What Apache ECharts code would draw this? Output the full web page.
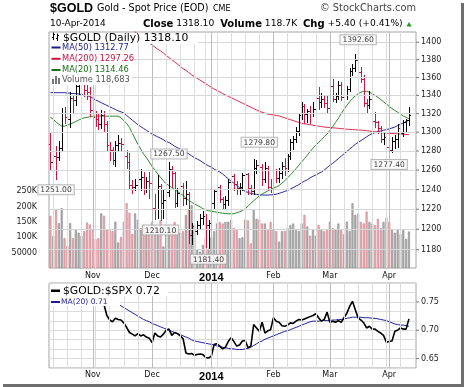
<!DOCTYPE html>
<html><head><meta charset="utf-8">
<script src="https://cdn.jsdelivr.net/npm/echarts@6/dist/echarts.min.js"></script>
<style>html,body{margin:0;padding:0;background:#fff}#c{width:464px;height:387px}</style>
</head><body><div id="c"></div>
<script>
// ---------------- DATA ----------------
const dates = [
'2013-10-11','2013-10-14','2013-10-15','2013-10-16','2013-10-17','2013-10-18','2013-10-21','2013-10-22','2013-10-23','2013-10-24','2013-10-25','2013-10-28','2013-10-29','2013-10-30','2013-10-31',
'2013-11-01','2013-11-04','2013-11-05','2013-11-06','2013-11-07','2013-11-08','2013-11-11','2013-11-12','2013-11-13','2013-11-14','2013-11-15','2013-11-18','2013-11-19','2013-11-20','2013-11-21','2013-11-22','2013-11-25','2013-11-26','2013-11-27','2013-11-28','2013-11-29',
'2013-12-02','2013-12-03','2013-12-04','2013-12-05','2013-12-06','2013-12-09','2013-12-10','2013-12-11','2013-12-12','2013-12-13','2013-12-16','2013-12-17','2013-12-18','2013-12-19','2013-12-20','2013-12-23','2013-12-24','2013-12-26','2013-12-27','2013-12-30','2013-12-31',
'2014-01-02','2014-01-03','2014-01-06','2014-01-07','2014-01-08','2014-01-09','2014-01-10','2014-01-13','2014-01-14','2014-01-15','2014-01-16','2014-01-17','2014-01-20','2014-01-21','2014-01-22','2014-01-23','2014-01-24','2014-01-27','2014-01-28','2014-01-29','2014-01-30','2014-01-31',
'2014-02-03','2014-02-04','2014-02-05','2014-02-06','2014-02-07','2014-02-10','2014-02-11','2014-02-12','2014-02-13','2014-02-14','2014-02-17','2014-02-18','2014-02-19','2014-02-20','2014-02-21','2014-02-24','2014-02-25','2014-02-26','2014-02-27','2014-02-28',
'2014-03-03','2014-03-04','2014-03-05','2014-03-06','2014-03-07','2014-03-10','2014-03-11','2014-03-12','2014-03-13','2014-03-14','2014-03-17','2014-03-18','2014-03-19','2014-03-20','2014-03-21','2014-03-24','2014-03-25','2014-03-26','2014-03-27','2014-03-28','2014-03-31',
'2014-04-01','2014-04-02','2014-04-03','2014-04-04','2014-04-07','2014-04-08','2014-04-09','2014-04-10'];
const padDates = ['2014-04-11','2014-04-14'];

const open = [1287,1268,1274,1273,1283,1320,1316,1314,1337,1334,1350,1352,1354,1345,1343,
1323,1316,1314,1308,1318,1308,1286,1281,1270,1286,1288,1287,1274,1268,1244,1242,1244,1250,1252,1240,1248,
1246,1221,1220,1243,1226,1229,1237,1261,1256,1226,1236,1243,1231,1235,1194,1203,1198,1204,1211,1213,1204,
1206,1226,1238,1242,1230,1225,1229,1247,1253,1245,1241,1242,1254,1255,1241,1238,1262,1265,1263,1250,1262,1242,
1240,1260,1251,1256,1264,1262,1274,1289,1292,1301,1318,1328,1319,1322,1320,1324,1337,1332,1336,1331,
1326,1350,1336,1339,1351,1338,1340,1347,1367,1370,1379,1366,1358,1331,1329,1336,1311,1310,1304,1292,1294,
1284,1280,1290,1292,1304,1299,1310,1312.7];
const high = [1300,1284,1285,1290,1326,1327,1323,1343,1340,1352,1354,1361,1355,1357,1349,
1328,1322,1320,1323,1322,1311,1289,1284,1290,1296,1293,1290,1280,1277,1249,1250,1258,1261,1257,1252,1257,
1254,1235,1254,1245,1240,1240,1267.5,1264,1258,1241,1246,1246,1248,1237,1206,1206,1208,1215,1218,1215,1209,
1231,1240,1249,1244,1232,1233,1250,1256,1255,1248,1246,1256,1258,1256,1244,1271,1270,1279.8,1266,1268,1264,1250,
1262,1261,1262,1268,1272,1276,1292,1295,1305,1320,1332,1330,1325,1328,1332,1340,1349,1342,1339,1340,
1355,1358,1342,1355,1354,1343,1350,1370,1375,1386,1392.6,1371,1362,1335,1344,1338,1321,1312,1306,1300,1298,
1290,1294,1296,1308,1306,1313,1314,1327];
const low = [1262,1263,1251,1271,1280,1310,1308,1306,1322,1330,1342,1346,1340,1337,1318,
1310,1307,1304,1305,1302,1282,1271,1267,1265,1282,1281,1272,1263,1242,1237,1240,1230,1240,1236,1238,1232,
1219,1211,1212,1210.1,1212,1225,1234,1243,1223,1224,1230,1225,1226,1187,1186,1195,1196,1202,1206,1183,1181.4,
1202,1222,1234,1228,1222,1222,1225,1243,1240,1236,1236,1240,1248,1236,1236,1236,1258,1250,1245,1248,1240,1238,
1238,1248,1248,1252,1255,1260,1272,1283,1290,1298,1315,1310,1311,1310,1318,1320,1326,1328,1328,1322,
1325,1334,1333,1337,1335,1334,1337,1345,1363,1368,1364,1356,1329,1322,1327,1310,1306,1300,1290,1288,1281,
1277.4,1279,1284,1285,1296,1296,1302,1308];
const close = [1268,1274,1273,1283,1320,1316,1314,1337,1334,1350,1352,1354,1345,1343,1323,
1316,1314,1308,1318,1308,1286,1281,1270,1286,1288,1287,1274,1268,1244,1242,1244,1250,1252,1240,1248,1246,
1221,1220,1243,1226,1229,1237,1261,1256,1226,1236,1243,1231,1235,1194,1203,1198,1204,1211,1213,1204,1206,
1226,1238,1242,1230,1225,1229,1247,1253,1245,1241,1242,1254,1255,1241,1238,1262,1265,1263,1250,1262,1242,1240,
1260,1251,1256,1264,1262,1274,1289,1292,1301,1318,1328,1319,1322,1320,1324,1337,1332,1336,1331,1326,
1350,1336,1339,1351,1338,1340,1347,1367,1370,1379,1366,1358,1331,1329,1336,1311,1310,1304,1292,1294,1284,
1280,1290,1292,1304,1299,1310,1312.7,1318.1];
// volume in thousands of units
const volumeK = [170,104,190,146,195,97,72,146,97,124,115,104,120,148,142,124,94,97,178,170,
124,125,120,151,83,101,151,211,180,111,178,157,130,140,115,125,150,140,130,155,
70,140,140,120,150,120,115,120,173,189,205,140,59,53,75,100,63,100,120,145,
150,145,150,151,157,130,124,97,100,158,155,80,189,160,158,145,145,124,150,124,
120,86,120,120,130,140,145,124,120,145,173,135,105,124,105,140,124,120,124,151,
130,124,145,124,110,151,120,211,173,178,150,145,184,150,145,140,160,130,150,164,
150,124,115,124,110,124,95,118.683];
const ma50 = [1343,1343,1343,1343,1343,1343,1342.5,1342.5,1342,1342,
1341.5,1341,1340,1339.5,1339,1337,1335,1333.5,1332,1330.5,
1329,1327.5,1326,1324.5,1323,1322,1320.5,1318,1315.5,1313,
1310.5,1308,1306,1304,1302,1300,1298,1296.5,1295,1293.5,
1292,1290,1289,1287,1285,1283.5,1282,1280,1278.5,1277,
1275,1273,1271.5,1270,1268,1266,1264.5,1263,1261,1259.5,
1258,1256,1253.5,1251,1248.5,1246.5,1244,1242,1240,1238,
1237,1236,1235.5,1235,1234.5,1234.4,1234.3,1234.3,1234.5,1234.8,
1235.2,1236,1237,1238,1239,1240.5,1242,1243.5,1245,1247,
1248.5,1250,1252,1253.5,1255,1256.5,1258,1260,1262.5,1265,
1267,1269.5,1272,1274.5,1277,1279.5,1282,1284.5,1287,1289,
1291,1293,1295,1297,1298.5,1299.5,1300.5,1301.3,1302,1302.8,
1303.5,1304.5,1305.5,1307,1308.5,1310,1311.5,1312.77];
const ma200 = [null,null,null,null,null,null,null,null,null,null,null,null,null,null,
null,null,null,null,null,null,null,null,null,null,null,null,null,null,
1418,1415,1412,1409,1406.5,1404,1401.5,1399,1397,1394.5,
1392,1390,1387.5,1385,1382.5,1380,1377.5,1375,1372.5,1370,
1368,1365.5,1363,1361,1359,1357,1355,1353,1351,1349,
1347,1345.5,1344,1342,1340.5,1339,1337.5,1336,1334.5,1333,
1331.5,1330,1328.5,1327,1325.5,1324,1322.5,1321.5,1320.5,1319.5,
1319,1318.5,1318,1317.5,1316.5,1315.5,1314.5,1313.5,1312.5,1311.5,
1310.5,1309.5,1309,1308.5,1308,1307.5,1307,1306.5,1306,1305.5,
1305.2,1305,1304.7,1304.4,1304.1,1303.8,1303.5,1303.2,1303,1302.8,
1302.6,1302.4,1302.2,1302,1301.6,1301.2,1300.8,1300.4,1300,1299.6,
1299.3,1299,1298.8,1298.6,1298.4,1298.2,1298,1297.8,1297.5,1297.26];
const ma20 = [1316,1314,1311,1308.5,1306.6,1306.5,1307.5,1308.8,1310,1311.5,
1313,1314.5,1315.5,1316,1316.5,1317,1317.3,1317.5,1317.5,1317.3,
1317.2,1317.2,1317.3,1317.3,1317.2,1315.5,1312.5,1309.5,1305,1299,
1293,1287,1282,1277,1273,1268.5,1264,1260,1256,1252.5,
1249,1246,1244,1242,1240,1238,1236,1234,1231,1229,
1227,1225.5,1224,1222.5,1220.5,1219.5,1218.5,1218,1217.5,1217,
1216.5,1216,1215.7,1215.4,1215.3,1215.5,1216.5,1217.5,1218.5,1220.5,
1223,1226,1228.5,1231,1233.5,1235.5,1237,1238.5,1240,1241.5,
1242.5,1244,1246.5,1249,1252,1255,1258,1261.5,1265,1268.5,
1272,1275.5,1279.5,1283,1286,1289,1292,1295,1298,1302,
1306,1310.5,1315,1320,1324.5,1329,1333,1336.5,1339.5,1342,
1343.5,1344.5,1344.5,1343.5,1342,1340,1338,1335.5,1333,1330.5,
1328,1325.5,1323.5,1321.5,1319.5,1317.5,1316,1314.46];
const ratio = [0.748,0.750,0.748,0.752,0.765,0.760,0.758,0.765,0.763,0.768,
0.767,0.768,0.763,0.760,0.752,0.748,0.747,0.748,0.750,0.745,
0.726,0.718,0.715,0.721,0.719,0.718,0.713,0.705,0.696,0.693,
0.690,0.694,0.690,0.692,0.688,0.686,0.678,0.695,0.690,0.688,
0.693,0.700,0.702,0.691,0.696,0.694,0.690,0.685,0.660,0.658,
0.659,0.656,0.657,0.658,0.657,0.652,0.651,0.654,0.675,0.676,
0.672,0.667,0.670,0.680,0.687,0.680,0.672,0.674,0.681,0.682,
0.669,0.672,0.710,0.704,0.698,0.714,0.695,0.699,0.701,0.722,
0.716,0.714,0.708,0.707,0.709,0.713,0.712,0.716,0.719,0.718,
0.720,0.722,0.724,0.726,0.729,0.722,0.716,0.719,0.732,0.714,
0.716,0.714,0.717,0.714,0.722,0.730,0.742,0.751,0.736,0.722,
0.718,0.713,0.704,0.707,0.702,0.702,0.698,0.695,0.691,0.679,
0.680,0.681,0.698,0.700,0.704,0.702,0.702,0.720];
const ratioMa20 = [0.781,0.780,0.779,0.778,0.777,0.775,0.774,0.772,0.771,0.769,
0.768,0.766,0.765,0.763,0.762,0.760,0.758,0.757,0.755,0.754,
0.752,0.751,0.750,0.748,0.746,0.743,0.740,0.737,0.734,0.731,
0.728,0.725,0.722,0.719,0.717,0.715,0.712,0.710,0.708,0.706,
0.704,0.702,0.700,0.698,0.696,0.694,0.692,0.690,0.688,0.686,
0.683,0.681,0.680,0.679,0.678,0.677,0.676,0.675,0.674,0.672,
0.671,0.670,0.669,0.668,0.667,0.667,0.666,0.666,0.666,0.667,
0.668,0.670,0.673,0.676,0.679,0.681,0.684,0.686,0.688,0.690,
0.692,0.694,0.696,0.698,0.699,0.701,0.703,0.705,0.707,0.709,
0.711,0.713,0.715,0.716,0.716,0.716,0.717,0.717,0.717,0.717,
0.718,0.718,0.719,0.719,0.720,0.721,0.722,0.723,0.723,0.723,
0.723,0.722,0.722,0.722,0.721,0.721,0.720,0.719,0.718,0.717,
0.715,0.713,0.711,0.710,0.709,0.709,0.708,0.707];

const priceTicks = [1180,1200,1220,1240,1260,1280,1300,1320,1340,1360,1380,1400];
const monthTickDates = ['2013-11-01','2013-12-02','2014-01-02','2014-02-03','2014-03-03','2014-04-01'];
const monthTickLabels = ['Nov','Dec','2014','Feb','Mar','Apr'];
const volumeTickLabels = ['50000','100K','150K','200K','250K'];
const ratioTickLabels = ['0.65','0.70','0.75'];
const annDates = ['2013-10-15','2013-12-05','2013-12-10','2013-12-31','2014-01-27','2014-03-17','2014-04-01'];
const annPrices = [1251.00,1210.10,1267.50,1181.40,1279.80,1392.60,1277.40];
const annSide = ['below','below','above','below','above','above','below'];

// ---------------- BUILD ----------------
const FF = '"DejaVu Sans", Verdana, sans-serif';
const L = Math.log;
const axisDates = dates.concat(padDates);
const RED = '#d8103c', BLK = '#000';
const up = dates.map((d,i)=> i===0 ? close[i]>=open[i] : close[i]>=close[i-1]);
const ohlcData = dates.map((d,i)=>[i, L(open[i]), L(high[i]), L(low[i]), L(close[i]), up[i]?1:0]);
const monthIdx = monthTickDates.map(d=>dates.indexOf(d));
const dow = d => new Date(d+'T00:00:00Z').getUTCDay();
const weekIdx = [];
dates.forEach((d,i)=>{ if(i>0 && dow(d) < dow(dates[i-1]) && monthIdx.indexOf(i)<0) weekIdx.push(i); });

function vLines(){
  return weekIdx.map(i=>({xAxis: dates[i], lineStyle:{color:'#dcdcdc', width:1, type:'solid'}, label:{show:false}}))
    .concat(monthIdx.map(i=>({xAxis: dates[i], lineStyle:{color:'#bcbcbc', width:1, type:'solid'}, label:{show:false}})));
}
const tickRich = {
  t:{width:3, height:1, backgroundColor:'#777'},
  v:{fontFamily:FF, fontSize:8, color:'#222', padding:[0,0,0,2]}
};
const hLines = priceTicks.map(p=>({
  yAxis: L(p), lineStyle:{color:'#d6d6d6', width:1, type:'solid'},
  label:{show:true, position:'end', distance:0, formatter:'{t| }{v|'+p+'}', rich:tickRich}
}));

function renderOHLC(params, api){
  const i = api.value(0);
  const pO = api.coord([i, api.value(1)]);
  const pH = api.coord([i, api.value(2)]);
  const pL = api.coord([i, api.value(3)]);
  const pC = api.coord([i, api.value(4)]);
  const x = Math.round(pO[0]) + 0.5;
  const col = api.value(5) ? BLK : RED;
  const yO = Math.floor(pO[1]) + 0.5, yC = Math.floor(pC[1]) + 0.5;
  const style = {stroke: col, lineWidth: 1, fill: null};
  return {type:'group', children:[
    {type:'line', shape:{x1:x, y1:Math.floor(pH[1]), x2:x, y2:Math.ceil(pL[1])+1}, style},
    {type:'line', shape:{x1:x-1.7, y1:yO, x2:x, y2:yO}, style},
    {type:'line', shape:{x1:x, y1:yC, x2:x+1.7, y2:yC}, style}
  ]};
}

const volData = volumeK.map((v,i)=>({value: v*1000, itemStyle: up[i]
  ? {color:'#b4b4b4', borderColor:'#858585', borderWidth:0.6}
  : {color:'#efb4bb', borderColor:'#cc7785', borderWidth:0.6}}));

const annData = annDates.map((d,k)=>({
  value:[dates.indexOf(d), L(annPrices[k])],
  label:{position: annSide[k]==='above' ? 'top' : 'bottom', distance: annSide[k]==='above' ? 4 : 6}
}));

const xLabel = {
  interval: (idx)=> monthIdx.indexOf(idx) >= 0,
  formatter: (val, idx)=>{ const k = monthIdx.indexOf(idx); if(k<0) return ''; const t = monthTickLabels[k]; return /^\d{4}$/.test(t) ? '{y|'+t+'}' : t; },
  rich:{y:{fontFamily:'"Liberation Sans", Arial, sans-serif', fontWeight:'bold', fontSize:11, color:'#000'}},
  fontFamily: FF, fontSize: 8, color:'#111', margin: 4
};

// graphics: header, legends, frame shadow
const gfx = [];
function txt(x,y,text,font,fill,align,extra){ const st = Object.assign({text, font, fill, align: align||'left', verticalAlign:'middle'}, extra||{}); gfx.push({type:'text', x, y, z:100, silent:true, style:st}); }
function rect(x,y,w,h,fill,z){ gfx.push({type:'rect', silent:true, shape:{x,y,width:w,height:h}, z: z||90, style:{fill}}); }
function seg(x1,y1,x2,y2,stroke){ gfx.push({type:'line', silent:true, shape:{x1,y1,x2,y2}, z:100, style:{stroke, lineWidth:1}}); }

// shadow frame
rect(461, 3, 3, 384, '#6e6e6e', 1);
rect(3, 384, 461, 3, '#6e6e6e', 1);
// header
txt(50, 8.5, '$GOLD', 'bold 12.5px "Liberation Sans", Arial, sans-serif', '#000');
txt(97, 8.5, 'Gold - Spot Price (EOD)', '9.6px '+FF, '#000');
txt(213, 9, 'CME', '8px '+FF, '#000');
txt(416, 8.5, '© StockCharts.com', '9.8px '+FF, '#444', 'right');
txt(50, 24, '10-Apr-2014', '9px '+FF, '#000');
txt(143, 24, '{b|Close} 1318.10  {b|Volume} 118.7K  {b|Chg} +5.40 (+0.41%)', '9.2px '+FF, '#000', 'left',
  {rich:{b:{fontFamily:FF, fontWeight:'bold', fontSize:10, fill:'#000', color:'#000'}}});
gfx.push({type:'polygon', silent:true, z:100, shape:{points:[[406.5,26.5],[411.5,26.5],[409,22]]}, style:{fill:'#14a014'}});

// main legend
rect(50, 33, 148, 11, '#fff');
rect(50, 44, 82, 41, '#fff');
// ohlc icon
seg(53.5,32.5,53.5,40,'#000'); seg(52,37.5,53.5,37.5,'#000'); seg(53.5,34.5,55,34.5,'#000');
seg(57.5,33.5,57.5,41,'#000'); seg(56,38.5,57.5,38.5,'#000'); seg(57.5,35.5,59,35.5,'#000');
txt(63, 38, '$GOLD (Daily) 1318.10', '10.8px '+FF, '#000');
rect(51.5, 46.5, 9, 2, '#1c1c8c', 100);
txt(62, 47.6, 'MA(50) 1312.77', '8.3px '+FF, '#1c1c8c');
rect(51.5, 57.8, 9, 2, '#d01040', 100);
txt(62, 58.8, 'MA(200) 1297.26', '8.3px '+FF, '#d01040');
rect(51.5, 69, 9, 2, '#1a6e1a', 100);
txt(62, 70, 'MA(20) 1314.46', '8.3px '+FF, '#1a6e1a');
rect(52, 79, 2, 5, '#777', 100); rect(55, 76, 2, 8, '#777', 100); rect(58, 78, 2, 6, '#777', 100);
txt(62, 80.3, 'Volume 118,683', '8.3px '+FF, '#555');

// lower legend
rect(50, 284, 118, 12, '#fff');
rect(50, 296, 70, 10, '#fff');
rect(51, 289.5, 9, 2.5, '#000', 100);
txt(63, 290.7, '$GOLD:$SPX 0.72', '10.8px '+FF, '#000');
rect(51, 301, 9, 2, '#1c1c9c', 100);
txt(61, 302, 'MA(20) 0.71', '7.6px '+FF, '#1c1c9c');

const option = {
  animation:false,
  backgroundColor:'#fff',
  grid:[
    {left:49, top:32, width:367, height:236, show:true, borderColor:'#a4a4a4', borderWidth:1, backgroundColor:'transparent'},
    {left:49, top:283, width:367, height:85, show:true, borderColor:'#a4a4a4', borderWidth:1, backgroundColor:'transparent'}
  ],
  xAxis:[
    {type:'category', gridIndex:0, data:axisDates, boundaryGap:true, axisLine:{show:false}, axisTick:{show:false}, splitLine:{show:false}, axisLabel:xLabel},
    {type:'category', gridIndex:1, data:axisDates, boundaryGap:true, axisLine:{show:false}, axisTick:{show:false}, splitLine:{show:false}, axisLabel:Object.assign({}, xLabel, {margin:3})}
  ],
  yAxis:[
    {type:'value', gridIndex:0, show:false, min:L(1162.3), max:L(1411.9)},
    {type:'value', gridIndex:0, position:'left', min:0, max:768700, interval:50000,
      axisLine:{show:false}, axisTick:{show:false}, splitLine:{show:false},
      axisLabel:{margin:12, fontFamily:FF, fontSize:8, color:'#222',
        formatter:(v)=>{ const k = Math.round(v/50000); return (k>=1 && k<=volumeTickLabels.length) ? volumeTickLabels[k-1] : ''; }}},
    {type:'value', gridIndex:1, position:'right', min:38/60, max:47/60, interval:1/60,
      axisLine:{show:false}, axisTick:{show:false},
      splitLine:{show:true, lineStyle:{color:'#dcdcdc', width:1}},
      axisLabel:{margin:0, rich:tickRich,
        formatter:(v)=>{ const k = Math.round(v*60); if(k%3!==0) return ''; const j = k/3 - 13; return (j>=0 && j<ratioTickLabels.length) ? '{t| }{v|'+ratioTickLabels[j]+'}' : ''; }}}
  ],
  series:[
    {type:'line', name:'grid-main', xAxisIndex:0, yAxisIndex:0, data:[], silent:true, z:1,
      markLine:{silent:true, precision:8, symbol:['none','none'], animation:false, data: hLines.concat(vLines())}},
    {type:'line', name:'grid-low', xAxisIndex:1, yAxisIndex:2, data:[], silent:true, z:1,
      markLine:{silent:true, precision:8, symbol:['none','none'], animation:false, data: vLines()}},
    {type:'bar', name:'Volume', xAxisIndex:0, yAxisIndex:1, data:volData, barWidth:2, z:2, silent:true},
    {type:'line', name:'MA(200)', xAxisIndex:0, yAxisIndex:0, data:ma200.map(v=>v==null?null:L(v)), showSymbol:false, silent:true, z:3,
      lineStyle:{color:'#e0284f', width:1}},
    {type:'line', name:'MA(50)', xAxisIndex:0, yAxisIndex:0, data:ma50.map(L), showSymbol:false, silent:true, z:3,
      lineStyle:{color:'#2828a0', width:1}},
    {type:'line', name:'MA(20)', xAxisIndex:0, yAxisIndex:0, data:ma20.map(L), showSymbol:false, silent:true, z:3,
      lineStyle:{color:'#2a8a2a', width:1}},
    {type:'custom', name:'$GOLD', xAxisIndex:0, yAxisIndex:0, data:ohlcData, renderItem:renderOHLC, z:4, silent:true,
      encode:{x:0, y:[1,2,3,4]}},
    {type:'scatter', name:'ann', xAxisIndex:0, yAxisIndex:0, data:annData, symbolSize:1, z:6, silent:true,
      itemStyle:{color:'rgba(0,0,0,0)'},
      label:{show:true, fontFamily:FF, fontSize:7.6, color:'#000', backgroundColor:'#fff', borderColor:'#a8a8a8', borderWidth:1,
        padding:[1,2,0,2], formatter:(p)=>annPrices[p.dataIndex].toFixed(2)}},
    {type:'line', name:'MA20 ratio', xAxisIndex:1, yAxisIndex:2, data:ratioMa20, showSymbol:false, silent:true, z:3,
      lineStyle:{color:'#2020a0', width:1}},
    {type:'line', name:'$GOLD:$SPX', xAxisIndex:1, yAxisIndex:2, data:ratio, showSymbol:false, silent:true, z:4,
      lineStyle:{color:'#000', width:1.6}}
  ],
  graphic: gfx
};
const chart = echarts.init(document.getElementById('c'), null, {renderer:'canvas', width:464, height:387});
chart.setOption(option);
</script>
</body></html>
